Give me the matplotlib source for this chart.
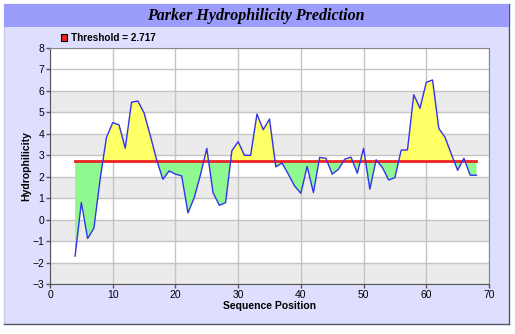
import matplotlib
matplotlib.use('Agg')
import matplotlib.pyplot as plt
import numpy as np
from matplotlib.patches import Rectangle, Patch
from matplotlib.lines import Line2D

plt.rcParams['font.family'] = 'Liberation Sans'

# sequence positions and Parker hydrophilicity scores
positions = list(range(4, 69))
scores = [-1.70, 0.80, -0.88, -0.40, 1.90, 3.83, 4.52, 4.42, 3.33, 5.47,
          5.53, 4.97, 3.91, 2.79, 1.88, 2.27, 2.12, 2.04, 0.31, 1.03,
          2.10, 3.32, 1.26, 0.67, 0.79, 3.21, 3.63, 3.00, 3.00, 4.92,
          4.19, 4.69, 2.46, 2.64, 2.12, 1.57, 1.23, 2.48, 1.26, 2.90,
          2.86, 2.12, 2.35, 2.82, 2.91, 2.16, 3.32, 1.42, 2.79, 2.43,
          1.85, 1.96, 3.24, 3.25, 5.82, 5.19, 6.40, 6.51, 4.25, 3.83,
          3.05, 2.30, 2.86, 2.07, 2.07]
threshold = 2.717

title = 'Parker Hydrophilicity Prediction'
x_label = 'Sequence Position'
y_label = 'Hydrophilicity'
x_ticks = [0, 10, 20, 30, 40, 50, 60, 70]
y_ticks = list(range(-3, 9))

W, H = 515, 334
fig = plt.figure(figsize=(W / 100, H / 100), dpi=100)
fig.patch.set_facecolor('white')

def fx(px):
    return px / W

def fy(py):
    return 1 - py / H

# outer frame and title bar
fig.patches.append(Rectangle((fx(4), fy(324)), fx(505), 320 / H, transform=fig.transFigure,
                             facecolor='#dedeff', edgecolor='none', zorder=-2))
fig.patches.append(Rectangle((fx(4), fy(27)), fx(505), 23 / H, transform=fig.transFigure,
                             facecolor='#9c9cfc', edgecolor='none', zorder=-1))
fig.lines.append(Line2D([fx(4), fx(509)], [fy(4), fy(4)], transform=fig.transFigure, color='#c8c8e8', lw=1, zorder=-1))
fig.lines.append(Line2D([fx(4), fx(4)], [fy(4), fy(324)], transform=fig.transFigure, color='#c8c8e8', lw=1, zorder=-1))
fig.lines.append(Line2D([fx(4), fx(509)], [fy(324), fy(324)], transform=fig.transFigure, color='#555566', lw=1, zorder=-1))
fig.lines.append(Line2D([fx(509), fx(509)], [fy(4), fy(324)], transform=fig.transFigure, color='#555566', lw=1, zorder=-1))

fig.text(fx(256), fy(16), title, ha='center', va='center', fontsize=11.5,
         family='Liberation Serif', weight='bold', style='italic')

ax = fig.add_axes([fx(50), fy(284), fx(439), 236 / H])
ax.set_xlim(0, 70)
ax.set_ylim(-3, 8)
ax.set_facecolor('white')

# alternating bands
for lo in range(-2, 8, 2):
    ax.axhspan(lo - 1, lo, color='#ebebeb', lw=0, zorder=0)

ax.set_xticks(x_ticks)
ax.set_yticks(y_ticks)
ax.grid(True, color='#c4c4c4', lw=1, zorder=1)
ax.set_axisbelow(True)

pos = np.array(positions)
val = np.array(scores)
ax.fill_between(pos, val, threshold, where=val >= threshold, interpolate=True,
                color='#ffff66', lw=0, zorder=2)
ax.fill_between(pos, val, threshold, where=val <= threshold, interpolate=True,
                color='#90f890', lw=0, zorder=2)
ax.plot(pos, val, color='#3333ee', lw=1, zorder=4)
ax.plot([pos[0], pos[-1]], [threshold, threshold], color='#ee2222', lw=2, zorder=3)

for s in ax.spines.values():
    s.set_color('#888888')
ax.spines['left'].set_color('#555555')
ax.spines['bottom'].set_color('#555555')
ax.tick_params(length=3, width=1, color='#555555', labelsize=7.5, pad=1)

ax.set_xlabel(x_label, fontsize=7.5, weight='bold', labelpad=1)
ax.set_ylabel(y_label, fontsize=7.5, weight='bold', labelpad=1)

handle = Patch(facecolor='#ee2222', edgecolor='black', lw=0.8)
leg = fig.legend([handle], ['Threshold = %.3f' % threshold], loc='center left',
                 bbox_to_anchor=(fx(56), fy(38)), frameon=False, fontsize=7.2,
                 handlelength=0.6, handleheight=0.7, handletextpad=0.4, borderpad=0)
for t in leg.get_texts():
    t.set_fontweight('bold')

fig.savefig('out.png', dpi=100)
